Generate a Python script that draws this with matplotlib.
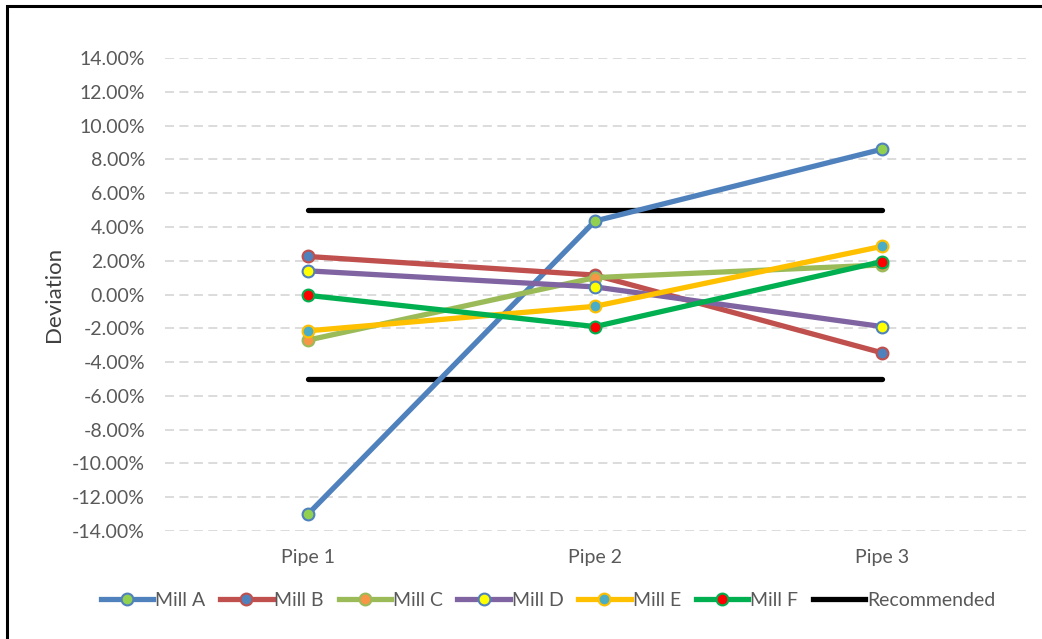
import matplotlib
matplotlib.use("Agg")
import matplotlib.pyplot as plt
from matplotlib.lines import Line2D
from matplotlib.patches import Rectangle
from matplotlib.ticker import FuncFormatter, MultipleLocator

plt.rcParams['font.family'] = ['Lato', 'DejaVu Sans']

categories = ["Pipe 1", "Pipe 2", "Pipe 3"]
mill_names = ["Mill A", "Mill B", "Mill C", "Mill D", "Mill E", "Mill F"]
mill_a = [-13.0, 4.35, 8.6]
mill_b = [2.25, 1.15, -3.45]
mill_c = [-2.7, 1.0, 1.75]
mill_d = [1.4, 0.45, -1.9]
mill_e = [-2.15, -0.7, 2.85]
mill_f = [-0.05, -1.9, 1.95]
recommended_upper = [5.0, 5.0, 5.0]
recommended_lower = [-5.0, -5.0, -5.0]

series = [mill_a, mill_b, mill_c, mill_d, mill_e, mill_f]
line_colors = ["#4f81bd", "#c0504d", "#9bbb59", "#8064a2", "#ffc000", "#00b050"]
face_colors = ["#92d050", "#4f81bd", "#f79646", "#ffff00", "#4bacc6", "#ff0000"]
edge_colors = ["#4f81bd", "#c0504d", "#9bbb59", "#4f81bd", "#ffc000", "#00b050"]

W, H = 1042, 639
fig = plt.figure(figsize=(W / 100, H / 100), dpi=100)
fig.patch.set_facecolor("white")

# frame of the chart area (left and top edges visible)
fig.add_artist(Rectangle((7 / W, -0.1), 1.2, 1 - 6 / H + 0.1, transform=fig.transFigure,
                         fill=False, edgecolor="black", linewidth=2.2))

left, right = 164.5 / W, 1025.5 / W
top, bottom = 1 - 58 / H, 1 - 531 / H
ax = fig.add_axes([left, bottom, right - left, top - bottom])

x = list(range(len(categories)))
ax.set_xlim(-0.5, len(categories) - 0.5)
ax.set_ylim(-14, 14)

ax.yaxis.set_major_locator(MultipleLocator(2))
ax.yaxis.set_major_formatter(FuncFormatter(lambda v, p: f"{v:.2f}%"))
ax.grid(axis="y", color="#d9d9d9", linestyle=(0, (5, 3)), linewidth=1.3)
ax.set_axisbelow(True)
for s in ax.spines.values():
    s.set_visible(False)
ax.tick_params(length=0, labelsize=14, colors="#595959", pad=14)
ax.tick_params(axis="x", pad=13)
ax.set_xticks(x)
ax.set_xticklabels(categories)
ax.set_ylabel("Deviation", fontsize=16, color="#404040", labelpad=6)

handles = []
for name, vals, lc, fc, ec in zip(mill_names, series, line_colors, face_colors, edge_colors):
    ax.plot(x, vals, color=lc, linewidth=3.8, marker="o", markersize=8.5,
            markerfacecolor=fc, markeredgecolor=ec, markeredgewidth=1.5,
            solid_capstyle="round", zorder=3)
    handles.append(Line2D([], [], color=lc, linewidth=3.8, marker="o", markersize=8.5,
                          markerfacecolor=fc, markeredgecolor=ec, markeredgewidth=1.5,
                          label=name))

ax.plot(x, recommended_upper, color="black", linewidth=3.8, solid_capstyle="round", zorder=2)
ax.plot(x, recommended_lower, color="black", linewidth=3.8, solid_capstyle="round", zorder=2)
handles.append(Line2D([], [], color="black", linewidth=3.8, label="Recommended"))

fig.legend(handles=handles, loc="center", bbox_to_anchor=(548 / W, 1 - 600 / H), ncol=7,
           frameon=False, fontsize=14, handlelength=2.7, handletextpad=0.1,
           columnspacing=0.75, labelcolor="#595959")

fig.savefig("out.png", dpi=100, facecolor="white")
